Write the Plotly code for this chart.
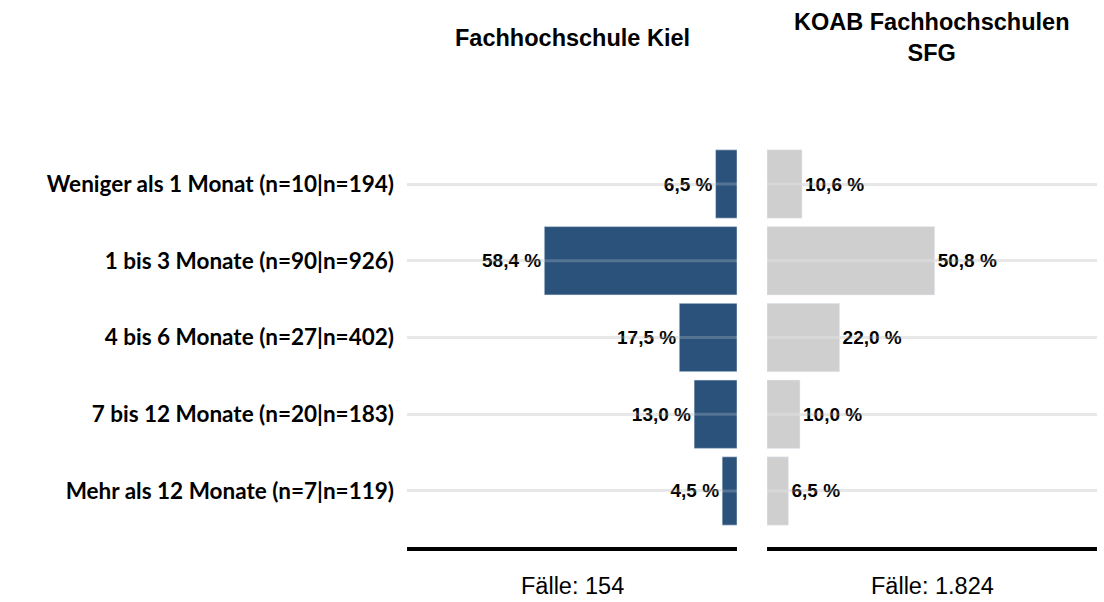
import plotly.graph_objects as go

categories = [
    "Weniger als 1 Monat (n=10|n=194)",
    "1 bis 3 Monate (n=90|n=926)",
    "4 bis 6 Monate (n=27|n=402)",
    "7 bis 12 Monate (n=20|n=183)",
    "Mehr als 12 Monate (n=7|n=119)",
]
kiel_values = [6.5, 58.4, 17.5, 13.0, 4.5]
koab_values = [10.6, 50.8, 22.0, 10.0, 6.5]
panel_titles = ["Fachhochschule Kiel", "KOAB Fachhochschulen<br>SFG"]
case_labels = ["Fälle: 154", "Fälle: 1.824"]

W, H = 1104, 602
BLUE = "#2b527a"
GRAY = "#cfcfcf"
XMAX = 100

def fmt(v):
    return f"{v:.1f}".replace(".", ",") + " %"

valfont = dict(family="Liberation Sans", size=19, color="black", weight="bold")

fig = go.Figure()
fig.add_trace(go.Bar(
    y=categories, x=kiel_values, orientation="h", marker_color=BLUE,
    text=[fmt(v) for v in kiel_values], textposition="outside", textfont=valfont,
    cliponaxis=False, xaxis="x", yaxis="y", hoverinfo="skip",
))
fig.add_trace(go.Bar(
    y=categories, x=koab_values, orientation="h", marker_color=GRAY,
    text=[fmt(v) for v in koab_values], textposition="outside", textfont=valfont,
    cliponaxis=False, xaxis="x2", yaxis="y2", hoverinfo="skip",
))

# faint light guide lines shining through the bars
gx, gy = [], []
for c in categories:
    gx += [0, XMAX, None]
    gy += [c, c, None]
for xa, ya in (("x", "y"), ("x2", "y2")):
    fig.add_trace(go.Scatter(x=gx, y=gy, mode="lines", xaxis=xa, yaxis=ya,
                             line=dict(color="rgba(255,255,255,0.2)", width=3),
                             hoverinfo="skip"))

lx = (407 / W, 737 / W)
rx = (767 / W, 1097 / W)
yd = (1 - 547 / H, 1 - 128 / H)

common_x = dict(showgrid=False, zeroline=False, showticklabels=False,
                ticks="", showline=True, linecolor="black", linewidth=4, fixedrange=True)
GRID = "#e3e3e3"
fig.update_layout(
    width=W, height=H,
    margin=dict(l=0, r=0, t=0, b=0),
    paper_bgcolor="white", plot_bgcolor="white",
    showlegend=False, bargap=0.11,
    xaxis=dict(domain=list(lx), anchor="y", range=[XMAX, 0], **common_x),
    xaxis2=dict(domain=list(rx), anchor="y2", range=[0, XMAX], **common_x),
    yaxis=dict(domain=list(yd), anchor="x", range=[4.73, -0.73], showgrid=True,
               gridcolor=GRID, gridwidth=3,
               zeroline=False, ticks="", ticklabelstandoff=12, fixedrange=True,
               tickfont=dict(family="Lato", size=22.5, color="black", weight="bold")),
    yaxis2=dict(domain=list(yd), anchor="x2", range=[4.73, -0.73], showgrid=True,
                gridcolor=GRID, gridwidth=3,
                zeroline=False, showticklabels=False, ticks="", fixedrange=True),
)

titlefont = dict(family="Liberation Sans", size=23.5, color="black", weight="bold")
fig.add_annotation(x=(lx[0] + lx[1]) / 2, y=1 - 38 / H, xref="paper", yref="paper",
                   text=panel_titles[0], showarrow=False, font=titlefont,
                   xanchor="center", yanchor="middle")
fig.add_annotation(x=(rx[0] + rx[1]) / 2, y=1 - 37 / H, xref="paper", yref="paper",
                   text=panel_titles[1], showarrow=False, font=titlefont,
                   xanchor="center", yanchor="middle", align="center")
casefont = dict(family="Liberation Sans", size=23.5, color="black")
fig.add_annotation(x=(lx[0] + lx[1]) / 2, y=1 - 586 / H, xref="paper", yref="paper",
                   text=case_labels[0], showarrow=False, font=casefont,
                   xanchor="center", yanchor="middle")
fig.add_annotation(x=(rx[0] + rx[1]) / 2, y=1 - 586 / H, xref="paper", yref="paper",
                   text=case_labels[1], showarrow=False, font=casefont,
                   xanchor="center", yanchor="middle")

fig.write_html("out.html", config={"displayModeBar": False},
               post_script="document.body.style.margin='0';document.body.style.overflow='hidden';")
